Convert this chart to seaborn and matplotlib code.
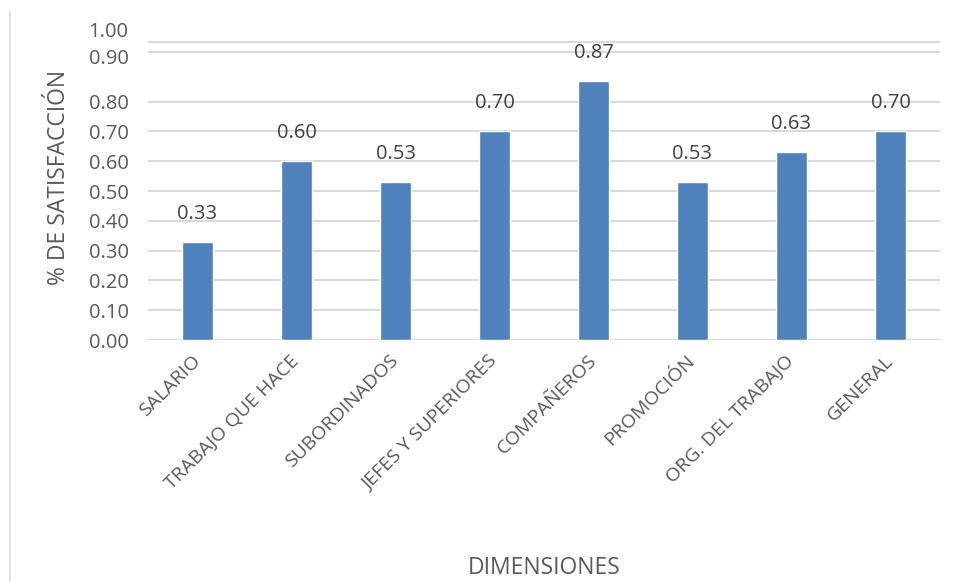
import matplotlib
matplotlib.use("Agg")
import matplotlib.pyplot as plt
from matplotlib.lines import Line2D
import seaborn as sns
import pandas as pd

# Satisfaction by dimension
dimensiones = ["SALARIO", "TRABAJO QUE HACE", "SUBORDINADOS", "JEFES Y SUPERIORES",
               "COMPAÑEROS", "PROMOCIÓN", "ORG. DEL TRABAJO", "GENERAL"]
satisfaccion = [0.33, 0.60, 0.53, 0.70, 0.87, 0.53, 0.63, 0.70]

# Value-axis labels and where they sit, plus the horizontal rules
ytick_pos = [0.0, 0.1, 0.2, 0.3, 0.4, 0.5, 0.6, 0.7, 0.8, 0.951, 1.043]
ytick_labels = ["0.00", "0.10", "0.20", "0.30", "0.40", "0.50", "0.60",
                "0.70", "0.80", "0.90", "1.00"]
grid_levels = [0.0, 0.1, 0.2, 0.3, 0.4, 0.5, 0.6, 0.7, 0.8, 0.965, 1.0]

df = pd.DataFrame({"dimension": dimensiones, "valor": satisfaccion})

sns.set_theme(style="white")
plt.rcParams["font.family"] = ["Open Sans", "DejaVu Sans"]

BLUE = "#4F81BD"
TXT = "#595959"
LBL = "#404040"
GRID = "#D9D9D9"

fig = plt.figure(figsize=(9.57, 5.82), dpi=100)
ax = fig.add_axes([0.1547, 0.4158, 0.8275, 0.5376])

for g in grid_levels:
    ax.axhline(g, color=GRID, lw=1.5, zorder=0)

sns.barplot(data=df, x="dimension", y="valor", color=BLUE, saturation=1,
            width=0.32, ax=ax, zorder=2)

for cont in ax.containers:
    ax.bar_label(cont, labels=[f"{v:.2f}" for v in satisfaccion], padding=13,
                 fontsize=14.5, color=LBL)

ax.set_ylim(0, 1.05)
ax.set_xlim(-0.5, len(dimensiones) - 0.5)
ax.set_yticks(ytick_pos, ytick_labels)
ax.tick_params(axis="y", length=0, labelsize=14.5, labelcolor=TXT, pad=14)
ax.tick_params(axis="x", length=0, labelsize=14, labelcolor=TXT, pad=13)
for lab in ax.get_xticklabels():
    lab.set_rotation(45)
    lab.set_ha("right")
    lab.set_va("center")
    lab.set_rotation_mode("anchor")

for s in ax.spines.values():
    s.set_visible(False)

ax.set_xlabel("DIMENSIONES", fontsize=16.5, color=TXT)
ax.xaxis.set_label_coords(0.5, -0.69)
ax.set_ylabel("% DE SATISFACCIÓN", fontsize=16.5, color=TXT)
ax.yaxis.set_label_coords(-0.097, 0.518)

# chart-area edge on the left
fig.add_artist(Line2D([10 / 957, 10 / 957], [0.0, 1 - 12 / 582],
                      transform=fig.transFigure, color="#D9D9D9", lw=1.2))

fig.savefig("out.png", dpi=100, facecolor="white")
